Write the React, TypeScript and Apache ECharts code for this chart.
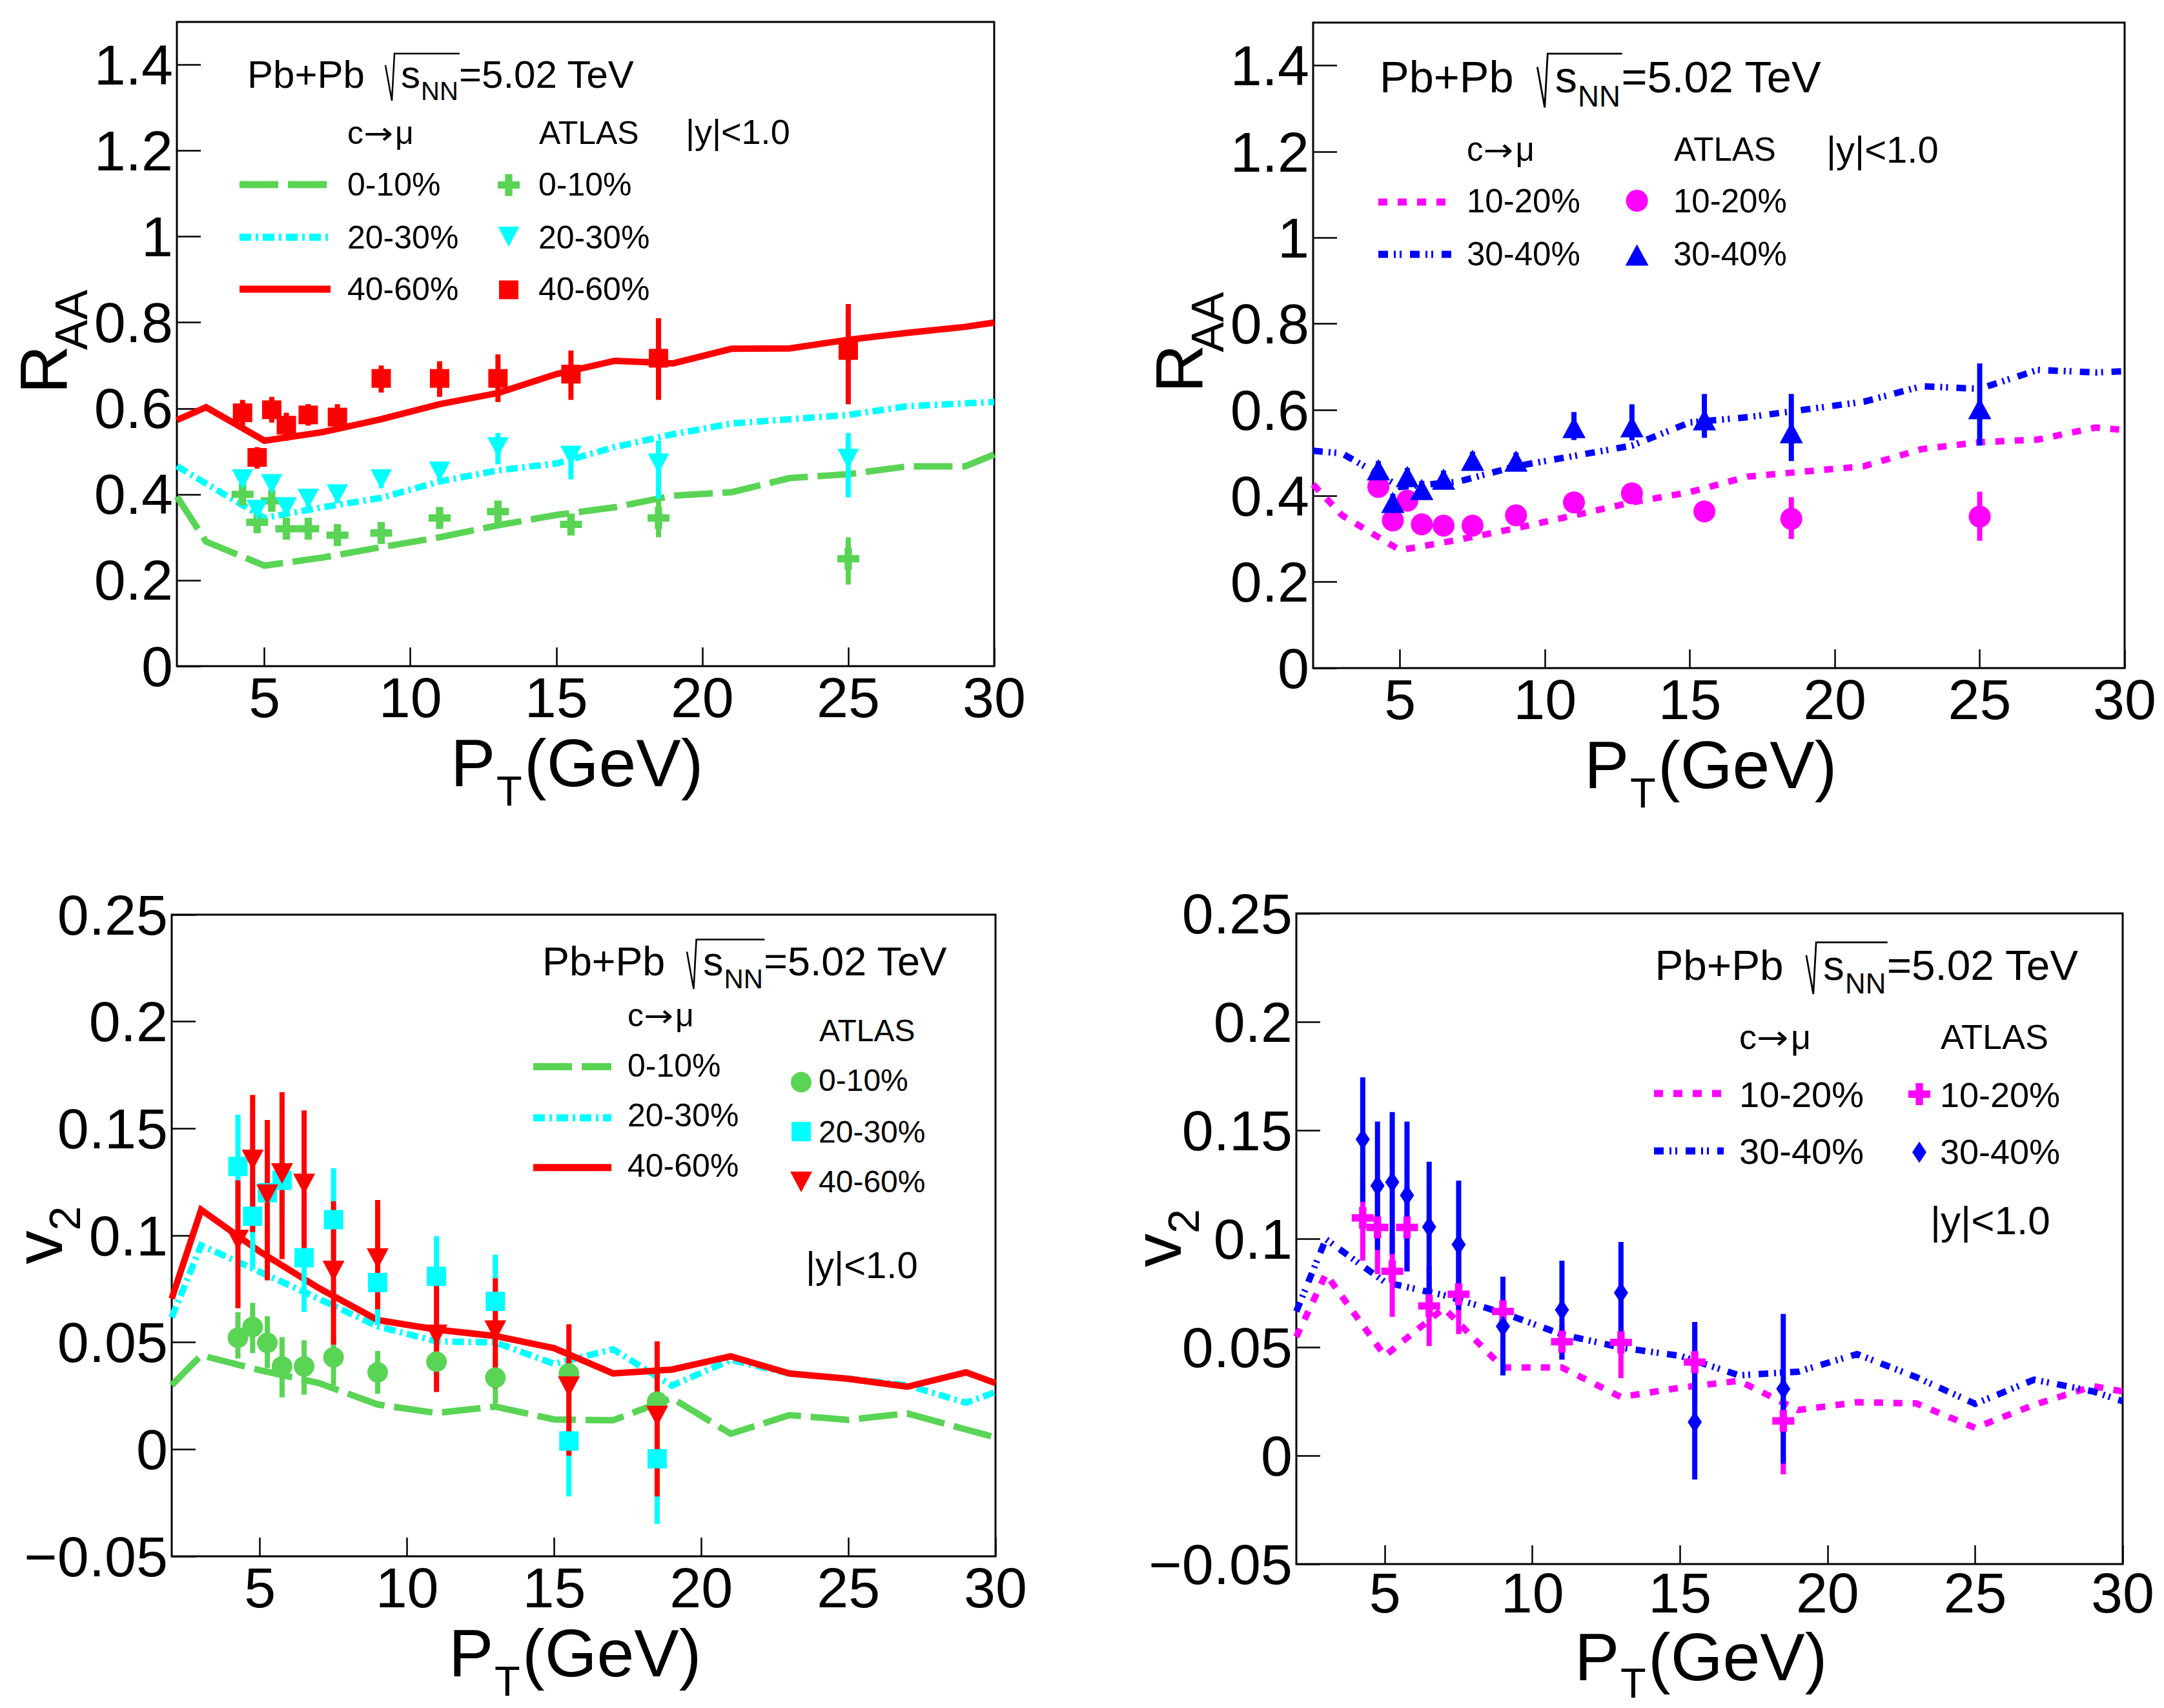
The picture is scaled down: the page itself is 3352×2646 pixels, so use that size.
import React, { useEffect, useRef } from "react";
import * as echarts from "echarts";

const FONT = "'Liberation Sans', Arial, Helvetica, sans-serif";
const ARROW_FONT = "'DejaVu Sans', 'Liberation Sans', sans-serif";

// ---- axes ----
const xTicks = [5, 10, 15, 20, 25, 30];
const raaTicks = [0, 0.2, 0.4, 0.6, 0.8, 1, 1.2, 1.4];
const v2Ticks = [-0.05, 0, 0.05, 0.1, 0.15, 0.2, 0.25];

// ---- pT points ----
const modelPt = [2, 3, 5, 7, 9, 11, 13, 15, 17, 19, 21, 23, 25, 27, 29, 30];
const atlasPtRaa = [4.25, 4.75, 5.25, 5.75, 6.5, 7.5, 9, 11, 13, 15.5, 18.5, 25];
const atlasPtV2 = [4.25, 4.75, 5.25, 5.75, 6.5, 7.5, 9, 11, 13, 15.5, 18.5];

// ---- top-left: RAA, 0-10 / 20-30 / 40-60 ----
const raaModel0010 = [0.395, 0.29, 0.234, 0.253, 0.277, 0.3, 0.328, 0.352, 0.37, 0.397, 0.405, 0.438, 0.447, 0.465, 0.465, 0.493];
const raaModel2030 = [0.466, 0.425, 0.345, 0.37, 0.392, 0.43, 0.456, 0.472, 0.51, 0.54, 0.565, 0.575, 0.585, 0.605, 0.612, 0.615];
const raaModel4060 = [0.573, 0.603, 0.525, 0.545, 0.575, 0.61, 0.636, 0.68, 0.711, 0.705, 0.739, 0.74, 0.76, 0.776, 0.79, 0.8];

const raaAtlas0010 = [0.4, 0.335, 0.385, 0.32, 0.32, 0.305, 0.31, 0.345, 0.36, 0.33, 0.345, 0.25];
const raaAtlas0010Lo = [0.375, 0.31, 0.36, 0.3, 0.3, 0.285, 0.29, 0.32, 0.335, 0.31, 0.3, 0.19];
const raaAtlas0010Hi = [0.425, 0.36, 0.41, 0.345, 0.34, 0.325, 0.335, 0.37, 0.385, 0.35, 0.4, 0.3];

const raaAtlas2030 = [0.435, 0.364, 0.424, 0.37, 0.39, 0.4, 0.435, 0.453, 0.51, 0.49, 0.472, 0.483];
const raaAtlas2030Lo = [0.415, 0.345, 0.405, 0.35, 0.37, 0.38, 0.415, 0.43, 0.47, 0.435, 0.39, 0.393];
const raaAtlas2030Hi = [0.455, 0.385, 0.445, 0.39, 0.41, 0.42, 0.455, 0.475, 0.543, 0.51, 0.525, 0.543];

const raaAtlas4060 = [0.59, 0.486, 0.597, 0.561, 0.585, 0.58, 0.67, 0.67, 0.67, 0.68, 0.717, 0.735];
const raaAtlas4060Lo = [0.56, 0.46, 0.567, 0.525, 0.56, 0.55, 0.637, 0.627, 0.615, 0.62, 0.62, 0.61];
const raaAtlas4060Hi = [0.62, 0.51, 0.627, 0.59, 0.61, 0.61, 0.7, 0.71, 0.726, 0.735, 0.81, 0.843];

// ---- top-right: RAA, 10-20 / 30-40 ----
const raaModel1020 = [0.427, 0.355, 0.274, 0.298, 0.325, 0.355, 0.385, 0.409, 0.445, 0.457, 0.469, 0.509, 0.525, 0.531, 0.559, 0.553];
const raaModel3040 = [0.505, 0.499, 0.421, 0.433, 0.469, 0.493, 0.517, 0.571, 0.583, 0.601, 0.619, 0.655, 0.649, 0.693, 0.687, 0.69];

const raaAtlas1020 = [0.421, 0.343, 0.389, 0.334, 0.331, 0.331, 0.355, 0.385, 0.406, 0.364, 0.347, 0.352];
const raaAtlas1020Lo = [0.4, 0.323, 0.369, 0.314, 0.311, 0.311, 0.335, 0.365, 0.386, 0.344, 0.3, 0.296];
const raaAtlas1020Hi = [0.44, 0.363, 0.409, 0.354, 0.351, 0.351, 0.375, 0.405, 0.426, 0.384, 0.397, 0.41];

const raaAtlas3040 = [0.461, 0.385, 0.445, 0.415, 0.439, 0.483, 0.481, 0.559, 0.561, 0.577, 0.547, 0.603];
const raaAtlas3040Lo = [0.44, 0.365, 0.425, 0.395, 0.419, 0.463, 0.461, 0.53, 0.529, 0.535, 0.481, 0.517];
const raaAtlas3040Hi = [0.481, 0.405, 0.465, 0.435, 0.459, 0.503, 0.501, 0.595, 0.613, 0.637, 0.637, 0.708];

// ---- bottom-left: v2, 0-10 / 20-30 / 40-60 ----
const v2Model0010 = [0.03, 0.044, 0.037, 0.031, 0.021, 0.017, 0.02, 0.014, 0.0136, 0.024, 0.0073, 0.016, 0.0138, 0.0168, 0.0093, 0.0056];
const v2Model2030 = [0.0617, 0.0954, 0.083, 0.0704, 0.0575, 0.0505, 0.05, 0.04, 0.0468, 0.0298, 0.0418, 0.0355, 0.033, 0.03, 0.0218, 0.0268];
const v2Model4060 = [0.0705, 0.112, 0.0924, 0.0754, 0.0605, 0.056, 0.053, 0.0473, 0.0355, 0.0373, 0.0435, 0.0355, 0.033, 0.0293, 0.036, 0.031];

const v2Atlas0010 = [0.0522, 0.0572, 0.0498, 0.0388, 0.0388, 0.043, 0.036, 0.041, 0.0335, 0.0355, 0.0223];
const v2Atlas0010Lo = [0.0425, 0.045, 0.038, 0.0243, 0.0256, 0.03, 0.026, 0.031, 0.0215, 0.0255, 0.0123];
const v2Atlas0010Hi = [0.0642, 0.0685, 0.0622, 0.0525, 0.051, 0.0535, 0.046, 0.051, 0.0455, 0.0455, 0.0323];

const v2Atlas2030 = [0.1323, 0.109, 0.12, 0.1258, 0.0896, 0.1074, 0.078, 0.0809, 0.0692, 0.0039, -0.0044];
const v2Atlas2030Lo = [0.1066, 0.0842, 0.103, 0.108, 0.0642, 0.0817, 0.058, 0.0605, 0.048, -0.022, -0.0348];
const v2Atlas2030Hi = [0.1565, 0.1315, 0.138, 0.141, 0.1153, 0.1315, 0.098, 0.0996, 0.091, 0.0306, 0.0268];

const v2Atlas4060 = [0.0979, 0.1353, 0.1191, 0.129, 0.1241, 0.0834, 0.0892, 0.0535, 0.0555, 0.0293, 0.0156];
const v2Atlas4060Lo = [0.066, 0.1016, 0.079, 0.089, 0.093, 0.049, 0.0655, 0.0268, 0.0286, -0.003, -0.022];
const v2Atlas4060Hi = [0.1258, 0.1657, 0.154, 0.167, 0.1585, 0.116, 0.1166, 0.0784, 0.08, 0.0585, 0.0505];

// ---- bottom-right: v2, 10-20 / 30-40 ----
const v2Model1020 = [0.0547, 0.0837, 0.046, 0.068, 0.0406, 0.0406, 0.027, 0.0313, 0.0345, 0.021, 0.0246, 0.0241, 0.0128, 0.0234, 0.032, 0.0296];
const v2Model3040 = [0.0665, 0.0998, 0.08, 0.0739, 0.0658, 0.0559, 0.0498, 0.046, 0.037, 0.0387, 0.0468, 0.0362, 0.0239, 0.035, 0.0296, 0.0251];

const v2Atlas1020 = [0.1096, 0.1052, 0.085, 0.1052, 0.069, 0.0744, 0.0665, 0.0525, 0.0522, 0.0431, 0.016];
const v2Atlas1020Lo = [0.0899, 0.0837, 0.064, 0.085, 0.0505, 0.056, 0.05, 0.0443, 0.0357, 0.0234, -0.0086];
const v2Atlas1020Hi = [0.1288, 0.127, 0.1022, 0.1244, 0.0874, 0.0948, 0.08, 0.0604, 0.07, 0.0616, 0.0357];

const v2Atlas3040 = [0.1458, 0.1244, 0.1261, 0.12, 0.1054, 0.0973, 0.0596, 0.0672, 0.0751, 0.0155, 0.0308];
const v2Atlas3040Lo = [0.117, 0.0948, 0.0929, 0.085, 0.0744, 0.0672, 0.037, 0.0443, 0.0517, -0.011, -0.0037];
const v2Atlas3040Hi = [0.1744, 0.154, 0.1584, 0.154, 0.1355, 0.1268, 0.0825, 0.0899, 0.0985, 0.0616, 0.0653];

// ---- styles ----
const GREEN = "#59d454";
const CYAN = "#00ffff";
const RED = "#ff0000";
const MAGENTA = "#ff00ff";
const BLUE = "#0000ff";
const DASH_LONG = [60, 15];
const DASH_DOT = [18, 7, 4, 7];
const DASH_SHORT = [14, 16];
const DASH_DOT_DOT = [15, 9, 3, 6, 3, 13];
const CROSS = "path://M-1,-3H1V-1H3V1H1V3H-1V1H-3V-1H-1Z";

const GRIDS = [
  { left: 274, top: 34, width: 1266, height: 998 },
  { left: 2034, top: 35, width: 1257, height: 1000 },
  { left: 266, top: 1417, width: 1276, height: 994 },
  { left: 2008, top: 1415, width: 1280, height: 1008 },
];
const X_LABEL_MARGIN = [4, 4, 4, 0];

const fmtTick = (v: number) => (v < 0 ? "\u2212" + String(Math.abs(v)) : String(v));

function xAxisFor(gi: number) {
  return {
    type: "value",
    gridIndex: gi,
    min: 2,
    max: 30,
    axisLine: { show: false, onZero: false },
    splitLine: { show: false },
    axisTick: { show: true, inside: true, length: 29, customValues: xTicks, lineStyle: { color: "#000", width: 2.5 } },
    axisLabel: {
      show: true,
      customValues: xTicks,
      fontSize: 88,
      fontFamily: FONT,
      color: "#000",
      margin: X_LABEL_MARGIN[gi],
      showMinLabel: true,
      showMaxLabel: true,
      formatter: fmtTick,
    },
  };
}

function yAxisFor(gi: number, min: number, max: number, ticks: number[]) {
  return {
    type: "value",
    gridIndex: gi,
    min,
    max,
    axisLine: { show: false, onZero: false },
    splitLine: { show: false },
    axisTick: { show: true, inside: true, length: 37, customValues: ticks, lineStyle: { color: "#000", width: 2.5 } },
    axisLabel: {
      show: true,
      customValues: ticks,
      fontSize: 88,
      fontFamily: FONT,
      color: "#000",
      margin: 6,
      showMinLabel: true,
      showMaxLabel: true,
      formatter: fmtTick,
    },
  };
}

function model(gi: number, ys: number[], color: string, dash: any) {
  return {
    type: "line",
    xAxisIndex: gi,
    yAxisIndex: gi,
    data: modelPt.map((x, i) => [x, ys[i]]),
    showSymbol: false,
    symbol: "none",
    lineStyle: { color, width: 10, type: dash, cap: "butt", join: "miter" },
    z: 3,
    silent: true,
  };
}

function errbars(gi: number, xs: number[], lo: number[], hi: number[], color: string) {
  return {
    type: "custom",
    xAxisIndex: gi,
    yAxisIndex: gi,
    data: xs.map((x, i) => [x, lo[i], hi[i]]),
    encode: { x: 0, y: [1, 2] },
    renderItem: (_p: any, api: any) => {
      const a = api.coord([api.value(0), api.value(1)]);
      const b = api.coord([api.value(0), api.value(2)]);
      return {
        type: "line",
        shape: { x1: a[0], y1: a[1], x2: b[0], y2: b[1] },
        style: { stroke: color, lineWidth: 8 },
      };
    },
    z: 4,
    silent: true,
  };
}

function points(gi: number, xs: number[], ys: number[], color: string, symbol: string, size: any, rotate = 0) {
  return {
    type: "scatter",
    xAxisIndex: gi,
    yAxisIndex: gi,
    data: xs.map((x, i) => [x, ys[i]]),
    symbol,
    symbolSize: size,
    symbolRotate: rotate,
    itemStyle: { color, opacity: 1 },
    z: 5,
    silent: true,
  };
}

// ---- graphic helpers ----
function T(text: string, x: number, baseline: number, fs: number, family = FONT, extra: any = {}) {
  return {
    type: "text",
    x,
    y: baseline - 0.3465 * fs,
    silent: true,
    ...extra,
    style: { text, fontSize: fs, fontFamily: family, fill: "#000", align: "left", verticalAlign: "middle" },
  };
}

function RT(text: string, baselineX: number, centerY: number, fs: number) {
  return {
    type: "text",
    x: baselineX - 0.3465 * fs,
    y: centerY,
    rotation: Math.PI / 2,
    silent: true,
    style: {
      text,
      fontSize: fs,
      lineHeight: Math.round(fs * 0.78),
      fontFamily: FONT,
      fill: "#000",
      align: "center",
      verticalAlign: "middle",
    },
  };
}

// "c→μ" : c, a stretched arrow, μ
function cmu(x0: number, base: number, fs: number) {
  return [
    T("c", x0, base, fs),
    T("\u2192", x0 + 0.5 * fs, base, fs * 0.95, ARROW_FONT, { scaleX: 1.15 }),
    T("\u03bc", x0 + 1.48 * fs, base, fs),
  ];
}

function collisionTitle(x0: number, base: number, fs: number) {
  const k = fs / 60;
  return [
    T("Pb+Pb", x0, base, fs),
    {
      type: "polyline",
      silent: true,
      shape: {
        points: [
          [x0 + 214 * k, base - 35 * k],
          [x0 + 224 * k, base + 20 * k],
          [x0 + 228 * k, base - 53 * k],
          [x0 + 329 * k, base - 53 * k],
        ],
      },
      style: { stroke: "#000", lineWidth: 2.5 * k, fill: null },
    },
    T("s", x0 + 238 * k, base, fs),
    T("NN", x0 + 269 * k, base + 19 * k, fs * 0.667),
    T("=5.02 TeV", x0 + 328 * k, base, fs),
  ];
}

// x-axis title "P_T(GeV)"
function xTitle(center: number, frameBottom: number, offset = 186, subDrop = 30) {
  const x0 = Math.round(center - 209);
  const base = frameBottom + offset;
  return [T("P", x0, base, 104), T("T", x0 + 71, base + subDrop, 65), T("(GeV)", x0 + 114, base, 104)];
}

function legLine(x1: number, x2: number, y: number, color: string, dash: number[] | null) {
  return {
    type: "line",
    silent: true,
    shape: { x1, y1: y, x2, y2: y },
    style: { stroke: color, lineWidth: 11, lineDash: dash, lineCap: "butt" },
  };
}

function legCross(cx: number, cy: number, s: number, color: string) {
  const a = s / 2;
  const t = s / 6;
  return {
    type: "polygon",
    silent: true,
    shape: {
      points: [
        [cx - t, cy - a], [cx + t, cy - a], [cx + t, cy - t], [cx + a, cy - t], [cx + a, cy + t], [cx + t, cy + t],
        [cx + t, cy + a], [cx - t, cy + a], [cx - t, cy + t], [cx - a, cy + t], [cx - a, cy - t], [cx - t, cy - t],
      ],
    },
    style: { fill: color },
  };
}
function legTri(cx: number, cy: number, w: number, h: number, color: string, down: boolean) {
  const pts = down
    ? [[cx - w / 2, cy - h / 2], [cx + w / 2, cy - h / 2], [cx, cy + h / 2]]
    : [[cx - w / 2, cy + h / 2], [cx + w / 2, cy + h / 2], [cx, cy - h / 2]];
  return { type: "polygon", silent: true, shape: { points: pts }, style: { fill: color } };
}
function legRect(cx: number, cy: number, w: number, h: number, color: string) {
  return { type: "rect", silent: true, shape: { x: cx - w / 2, y: cy - h / 2, width: w, height: h }, style: { fill: color } };
}
function legCircle(cx: number, cy: number, r: number, color: string) {
  return { type: "circle", silent: true, shape: { cx, cy, r }, style: { fill: color } };
}
function legDiamond(cx: number, cy: number, w: number, h: number, color: string) {
  return {
    type: "polygon",
    silent: true,
    shape: { points: [[cx, cy - h / 2], [cx + w / 2, cy], [cx, cy + h / 2], [cx - w / 2, cy]] },
    style: { fill: color },
  };
}

function buildOption() {
  const graphic: any[] = [
    // ---------- top-left ----------
    ...collisionTitle(383, 136, 60),
    ...cmu(538, 223, 50),
    T("ATLAS", 835, 223, 50),
    T("|y|<1.0", 1062, 223, 54),
    legLine(371, 510, 286, GREEN, DASH_LONG),
    legLine(371, 510, 367.5, CYAN, DASH_DOT),
    legLine(371, 512, 448, RED, null),
    T("0-10%", 538, 303, 50),
    T("20-30%", 538, 385, 50),
    T("40-60%", 538, 465, 50),
    legCross(788, 286.7, 34, GREEN),
    legTri(788, 366.7, 33, 31, CYAN, true),
    legRect(788, 449, 30, 29, RED),
    T("0-10%", 834, 303, 50),
    T("20-30%", 834, 385, 50),
    T("40-60%", 834, 465, 50),
    RT("R", 104, 572.5, 104),
    RT("AA", 135, 495.5, 70),
    ...xTitle(907, 1032),

    // ---------- top-right ----------
    ...collisionTitle(2137, 143.7, 68.5),
    ...cmu(2272, 249, 51),
    T("ATLAS", 2593, 249, 51),
    T("|y|<1.0", 2829, 252, 58),
    legLine(2135, 2248, 313, MAGENTA, DASH_SHORT),
    legLine(2135, 2248, 394, BLUE, DASH_DOT_DOT),
    T("10-20%", 2272, 329, 51),
    T("30-40%", 2272, 411, 51),
    legCircle(2535.6, 311, 17, MAGENTA),
    legTri(2535.6, 395, 36, 33, BLUE, false),
    T("10-20%", 2592, 329, 51),
    T("30-40%", 2592, 411, 51),
    RT("R", 1863, 571, 104),
    RT("AA", 1895, 499, 70),
    ...xTitle(2662.5, 1035),

    // ---------- bottom-left ----------
    ...collisionTitle(840, 1511, 62.8),
    ...cmu(972, 1590, 50),
    T("ATLAS", 1269, 1613, 48),
    legLine(826, 947, 1652.5, GREEN, DASH_LONG),
    legLine(826, 947, 1731.8, CYAN, DASH_DOT),
    legLine(826, 947, 1808.7, RED, null),
    T("0-10%", 972, 1668, 50),
    T("20-30%", 972, 1745, 50),
    T("40-60%", 972, 1823, 50),
    legCircle(1241, 1676.5, 16, GREEN),
    legRect(1241, 1753, 30, 30, CYAN),
    legTri(1241, 1831, 34, 32, RED, true),
    T("0-10%", 1268, 1690.5, 48),
    T("20-30%", 1268, 1770, 48),
    T("40-60%", 1268, 1847.6, 48),
    T("|y|<1.0", 1248, 1980, 58),
    RT("v", 96, 1932.5, 104),
    RT("2", 124, 1887.5, 68),
    ...xTitle(904, 2411),

    // ---------- bottom-right ----------
    ...collisionTitle(2563.5, 1518, 65.7),
    ...cmu(2694, 1625, 54),
    T("ATLAS", 3006, 1625, 54),
    legLine(2562, 2670, 1694, MAGENTA, DASH_SHORT),
    legLine(2562, 2670, 1783, BLUE, DASH_DOT_DOT),
    T("10-20%", 2694, 1715, 56),
    T("30-40%", 2694, 1803, 56),
    legCross(2973, 1695, 34, MAGENTA),
    legDiamond(2973, 1785, 22, 33, BLUE),
    T("10-20%", 3005, 1715, 54),
    T("30-40%", 3005, 1803, 54),
    T("|y|<1.0", 2990, 1912, 62),
    RT("v", 1829, 1937, 104),
    RT("2", 1857, 1892, 68),
    ...xTitle(2648, 2423, 180, 27),
  ];

  const series: any[] = [
    // top-left
    model(0, raaModel0010, GREEN, DASH_LONG),
    model(0, raaModel2030, CYAN, DASH_DOT),
    model(0, raaModel4060, RED, "solid"),
    errbars(0, atlasPtRaa, raaAtlas0010Lo, raaAtlas0010Hi, GREEN),
    points(0, atlasPtRaa, raaAtlas0010, GREEN, CROSS, 34),
    errbars(0, atlasPtRaa, raaAtlas2030Lo, raaAtlas2030Hi, CYAN),
    points(0, atlasPtRaa, raaAtlas2030, CYAN, "triangle", [33, 31], 180),
    errbars(0, atlasPtRaa, raaAtlas4060Lo, raaAtlas4060Hi, RED),
    points(0, atlasPtRaa, raaAtlas4060, RED, "rect", [30, 29]),
    // top-right
    model(1, raaModel1020, MAGENTA, DASH_SHORT),
    model(1, raaModel3040, BLUE, DASH_DOT_DOT),
    errbars(1, atlasPtRaa, raaAtlas1020Lo, raaAtlas1020Hi, MAGENTA),
    points(1, atlasPtRaa, raaAtlas1020, MAGENTA, "circle", 34),
    errbars(1, atlasPtRaa, raaAtlas3040Lo, raaAtlas3040Hi, BLUE),
    points(1, atlasPtRaa, raaAtlas3040, BLUE, "triangle", [36, 33]),
    // bottom-left
    model(2, v2Model0010, GREEN, DASH_LONG),
    model(2, v2Model2030, CYAN, DASH_DOT),
    model(2, v2Model4060, RED, "solid"),
    errbars(2, atlasPtV2, v2Atlas0010Lo, v2Atlas0010Hi, GREEN),
    points(2, atlasPtV2, v2Atlas0010, GREEN, "circle", 32),
    errbars(2, atlasPtV2, v2Atlas2030Lo, v2Atlas2030Hi, CYAN),
    points(2, atlasPtV2, v2Atlas2030, CYAN, "rect", [30, 30]),
    errbars(2, atlasPtV2, v2Atlas4060Lo, v2Atlas4060Hi, RED),
    points(2, atlasPtV2, v2Atlas4060, RED, "triangle", [34, 32], 180),
    // bottom-right
    model(3, v2Model1020, MAGENTA, DASH_SHORT),
    model(3, v2Model3040, BLUE, DASH_DOT_DOT),
    errbars(3, atlasPtV2, v2Atlas1020Lo, v2Atlas1020Hi, MAGENTA),
    points(3, atlasPtV2, v2Atlas1020, MAGENTA, CROSS, 34),
    errbars(3, atlasPtV2, v2Atlas3040Lo, v2Atlas3040Hi, BLUE),
    points(3, atlasPtV2, v2Atlas3040, BLUE, "diamond", [22, 33]),
  ];

  return {
    animation: false,
    backgroundColor: "#ffffff",
    grid: GRIDS.map((g) => ({ ...g, show: true, borderColor: "#000", borderWidth: 3, backgroundColor: "transparent", containLabel: false })),
    xAxis: [0, 1, 2, 3].map((i) => xAxisFor(i)),
    yAxis: [
      yAxisFor(0, 0, 1.5, raaTicks),
      yAxisFor(1, 0, 1.5, raaTicks),
      yAxisFor(2, -0.05, 0.25, v2Ticks),
      yAxisFor(3, -0.05, 0.25, v2Ticks),
    ],
    series,
    graphic,
  };
}

export default function App() {
  const ref = useRef<HTMLDivElement>(null);
  useEffect(() => {
    if (!ref.current) return;
    const chart = echarts.init(ref.current, null, { renderer: "svg" });
    chart.setOption(buildOption() as any);
    return () => chart.dispose();
  }, []);
  return (
    <div
      ref={ref}
      style={{ position: "fixed", left: 0, top: 0, width: 3352, height: 2646, background: "#fff" }}
    />
  );
}
